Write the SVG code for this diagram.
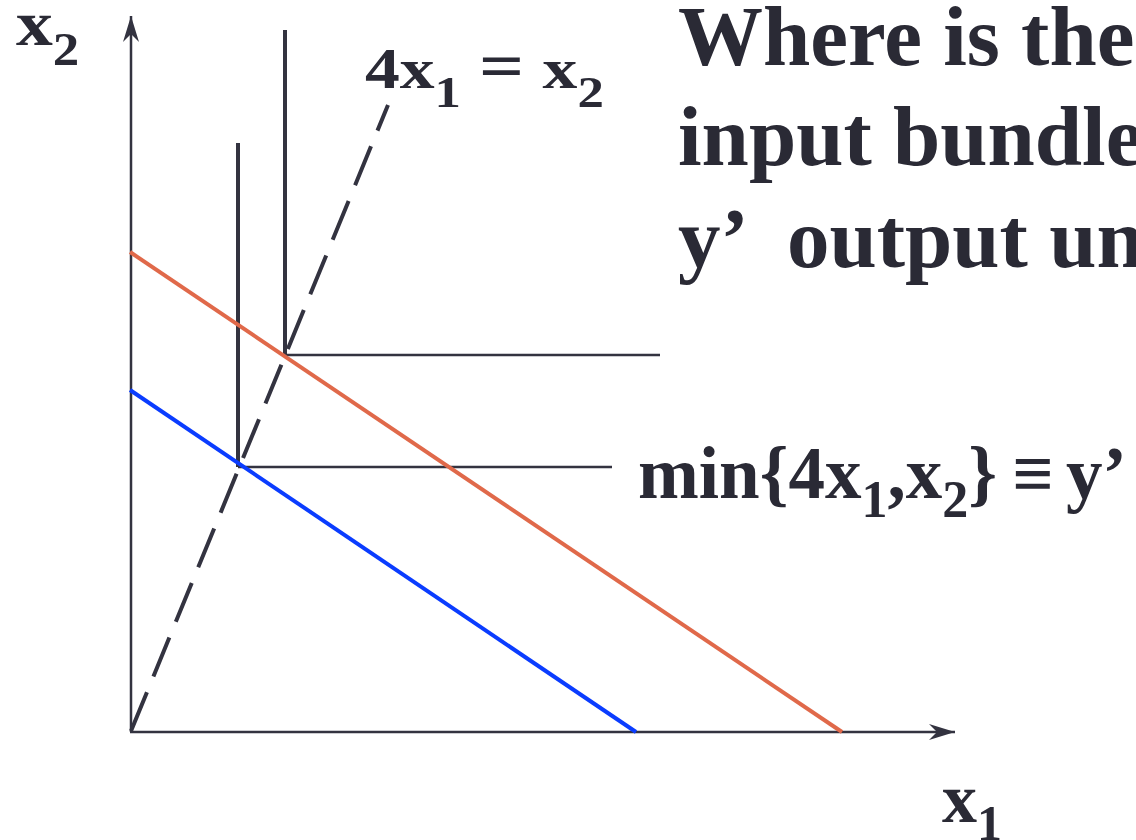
<svg xmlns="http://www.w3.org/2000/svg" width="1136" height="840" viewBox="0 0 1136 840">
<style>
.t{font-family:"Liberation Serif","Times New Roman",serif;font-weight:700;fill:#2a2a35}
.ax{stroke:#333340;stroke-width:2.5;fill:none}
.guide{stroke:#333340;stroke-width:2.5;fill:none}
.vert{stroke:#333340;stroke-width:4;fill:none}
.dash{stroke:#333340;stroke-width:4;stroke-dasharray:42 17;fill:none}
</style>
<defs>
<marker id="arr" markerUnits="userSpaceOnUse" markerWidth="30" markerHeight="20" viewBox="-28 -10 30 20" refX="0" refY="0" orient="auto">
<path d="M0,0 L-26,-8 L-18,0 L-26,8 Z" fill="#333340"/>
</marker>
</defs>
<rect width="1136" height="840" fill="#ffffff"/>
<g id="connectors">
<line class="ax" x1="131" y1="732" x2="131" y2="16" marker-end="url(#arr)"/>
<line class="ax" x1="130" y1="732" x2="955" y2="732" marker-end="url(#arr)"/>
<line class="dash" x1="131" y1="731" x2="388" y2="105"/>
<line class="vert" x1="238" y1="143" x2="238" y2="467"/>
<line class="vert" x1="285" y1="30" x2="285" y2="356"/>
<line class="guide" x1="238" y1="467" x2="612" y2="467"/>
<line class="guide" x1="285" y1="355" x2="660" y2="355"/>
<line x1="130" y1="252" x2="842" y2="732" stroke="#e0694a" stroke-width="4"/>
<line x1="130" y1="390" x2="636" y2="732" stroke="#0a3cff" stroke-width="4"/>
</g>
<g id="label-x2">
<text class="t" transform="translate(16,45) scale(1.15,1)" x="0" y="0" font-size="64">x<tspan font-size="46" dy="20">2</tspan></text>
</g>
<g id="label-x1">
<text class="t" x="942" y="822" font-size="70">x<tspan font-size="50" dy="18">1</tspan></text>
</g>
<g id="label-ray">
<text class="t" transform="translate(365,88) scale(1.2,1)" x="0" y="0" font-size="58">4x<tspan font-size="44" dy="19">1</tspan><tspan x="95" dy="-19" font-size="66">=</tspan><tspan x="148">x</tspan><tspan font-size="44" dy="19">2</tspan></text>
</g>
<g id="label-iso">
<text class="t" x="638" y="498" font-size="73">min{4x<tspan font-size="52" dy="19">1</tspan><tspan dy="-19">,x</tspan><tspan font-size="52" dy="19">2</tspan><tspan dy="-19">}</tspan><tspan x="1012">≡</tspan><tspan x="1066">y’</tspan></text>
</g>
<g id="title">
<text class="t" x="678" y="65" font-size="85">Where is the</text>
<text class="t" x="678" y="165" font-size="85">input bundle</text>
<text class="t" x="678" y="267" font-size="85">y’<tspan x="787">output un</tspan></text>
</g>
</svg>
